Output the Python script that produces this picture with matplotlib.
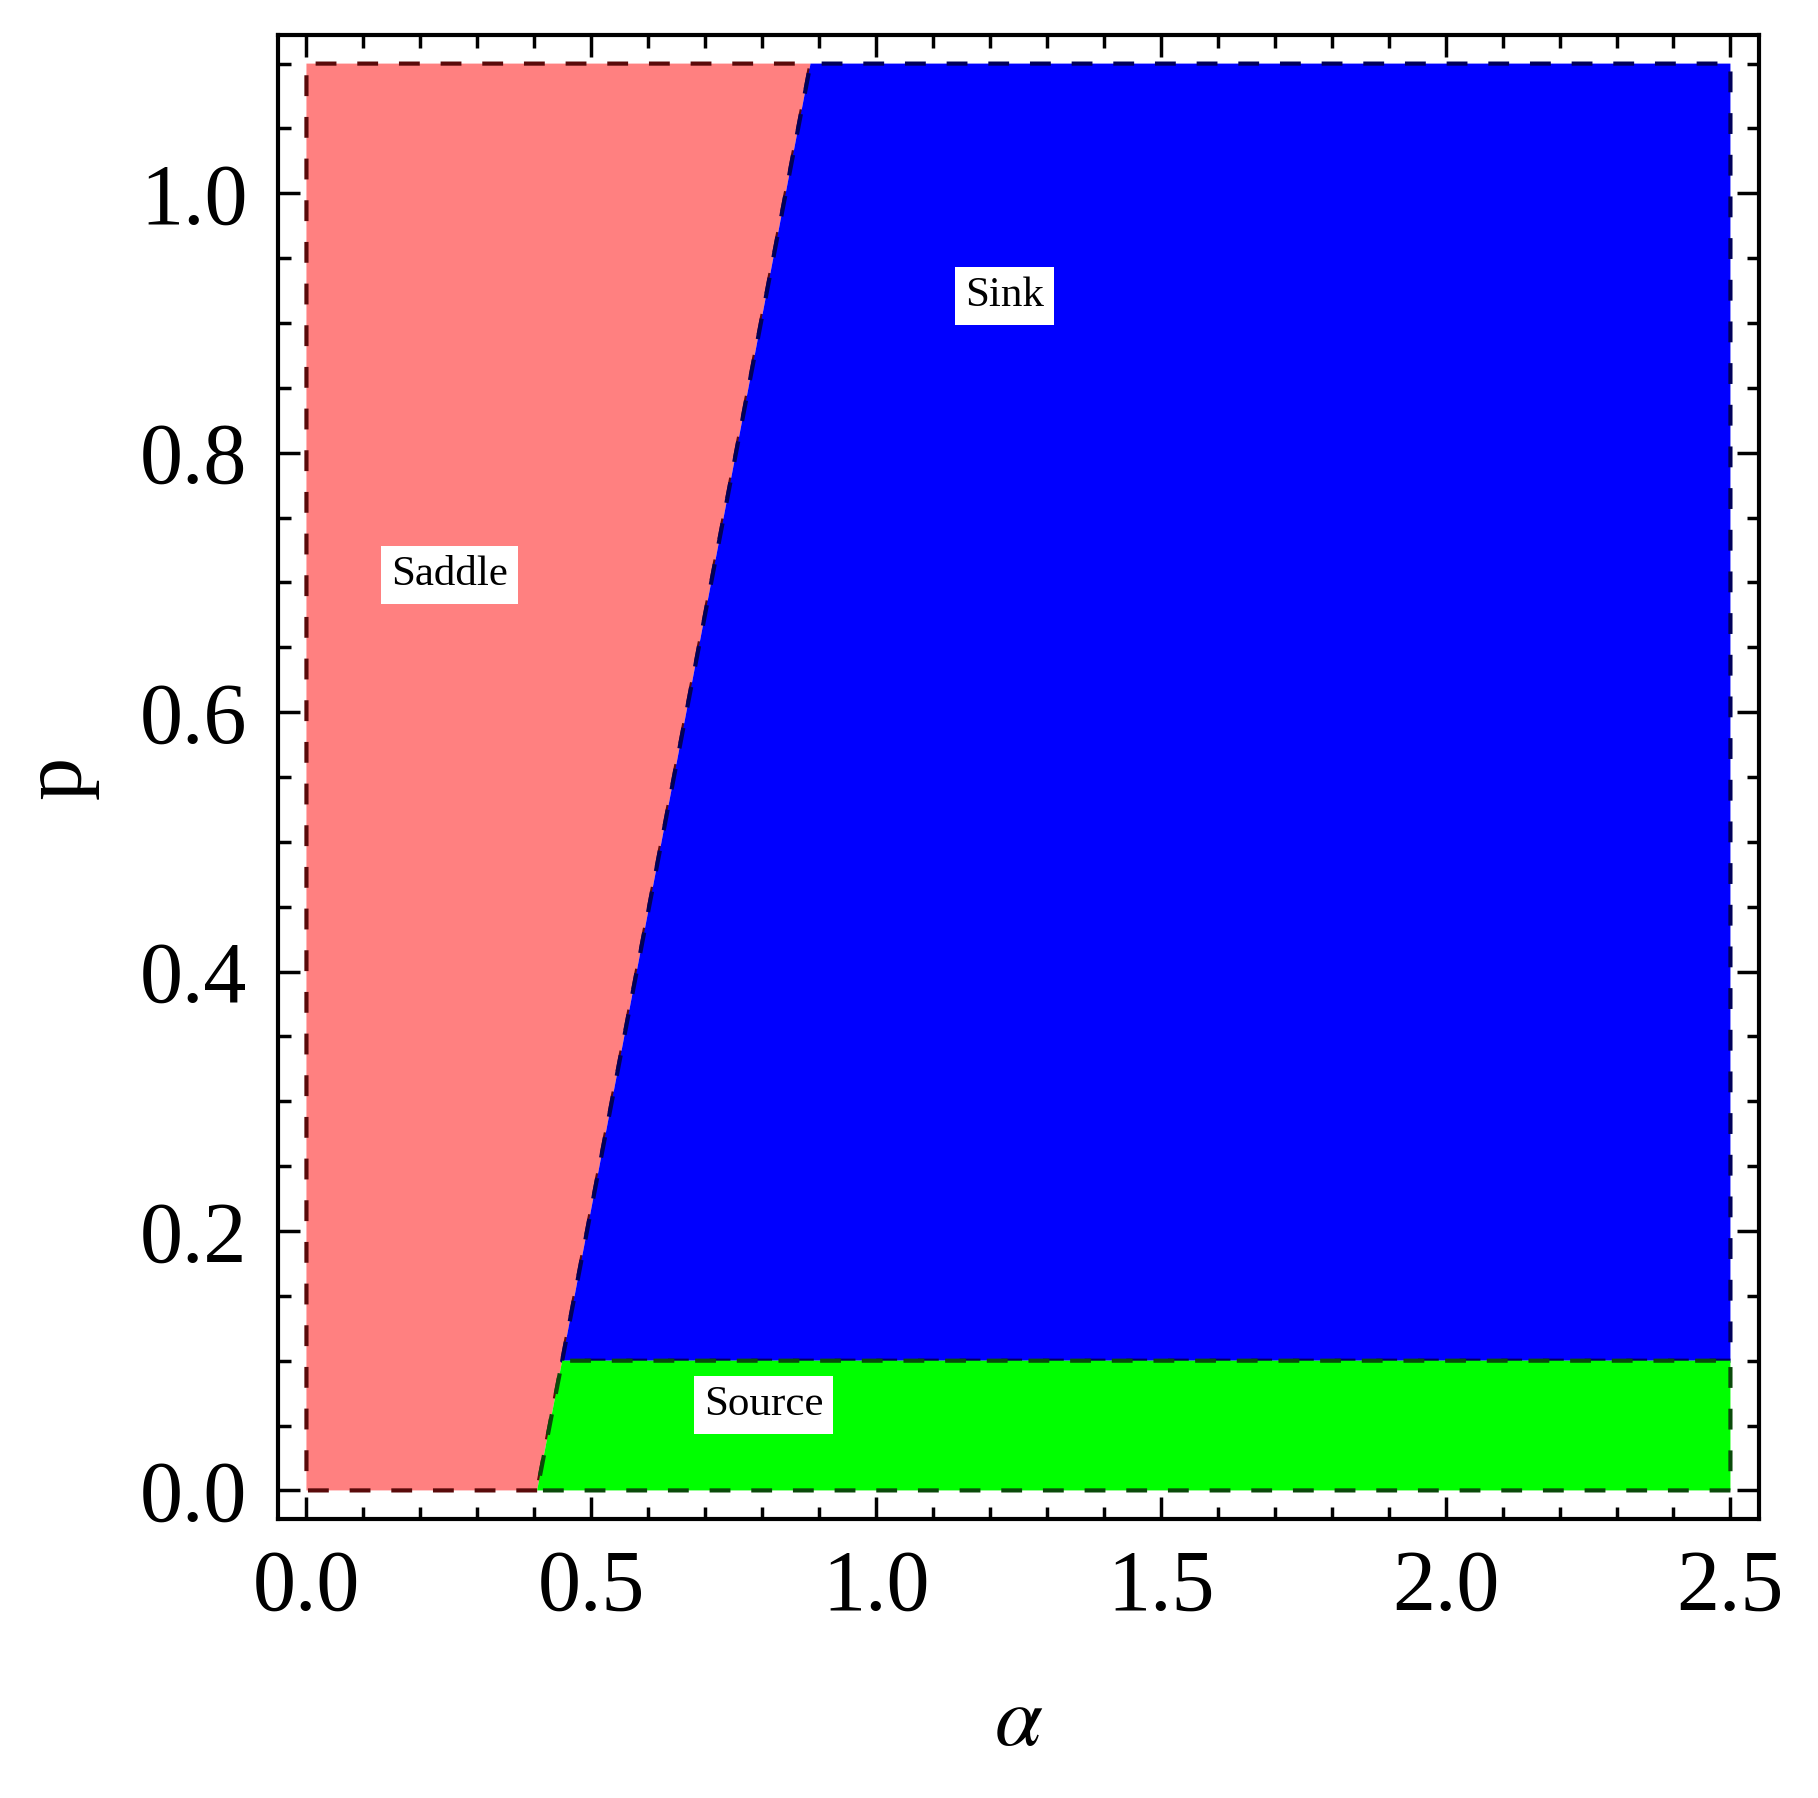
import matplotlib.pyplot as plt
import numpy as np
from matplotlib.ticker import MultipleLocator

# boundary between saddle and sink/source regions (alpha as a function of p)
boundary_p = [0.0, 0.1, 1.1]
boundary_alpha = [0.405, 0.449, 0.885]

alpha_max = 2.5
p_max = 1.1
source_top = 0.1

region_names = ['Saddle', 'Sink', 'Source']
label_alpha = [0.251, 1.225, 0.803]
label_p = [0.706, 0.921, 0.066]

x_ticks = [0.0, 0.5, 1.0, 1.5, 2.0, 2.5]
y_ticks = [0.0, 0.2, 0.4, 0.6, 0.8, 1.0]

plt.rcParams['font.family'] = ['Liberation Serif', 'DejaVu Serif']
plt.rcParams['mathtext.fontset'] = 'stix'

fig = plt.figure(figsize=(18.18, 17.98), dpi=100)
ax = fig.add_axes([0.1529, 0.1552, 0.8146, 0.8253])

bp = np.array(boundary_p)
ba = np.array(boundary_alpha)

# Saddle: from alpha=0 to boundary
ax.fill_betweenx(bp, 0, ba, facecolor='#ff8080', edgecolor='#5a0a0a',
                 linestyle=(0, (5, 5)), linewidth=3, zorder=2)
# Sink: above p=0.1
m = bp >= source_top
ax.fill_betweenx(bp[m], ba[m], alpha_max, facecolor='#0000ff', edgecolor='#00005a',
                 linestyle=(0, (5, 5)), linewidth=3, zorder=2)
# Source: below p=0.1
m = bp <= source_top
ax.fill_betweenx(bp[m], ba[m], alpha_max, facecolor='#00ff00', edgecolor='#0a4a0a',
                 linestyle=(0, (5, 5)), linewidth=3, zorder=2)

for name, a, p in zip(region_names, label_alpha, label_p):
    ax.text(a, p, name, fontsize=31, ha='center', va='center', zorder=5,
            bbox=dict(facecolor='white', edgecolor='none', pad=7))

ax.set_xlim(-0.05, 2.55)
ax.set_ylim(-0.022, 1.122)

ax.set_xticks(x_ticks)
ax.set_xticklabels([f'{v:.1f}' for v in x_ticks])
ax.set_yticks(y_ticks)
ax.set_yticklabels([f'{v:.1f}' for v in y_ticks])
ax.xaxis.set_minor_locator(MultipleLocator(0.1))
ax.yaxis.set_minor_locator(MultipleLocator(0.05))

ax.tick_params(which='both', direction='in', top=True, right=True, width=2.5, colors='black')
ax.tick_params(which='major', length=16, labelsize=62, pad=22)
ax.tick_params(which='minor', length=9)
for s in ax.spines.values():
    s.set_linewidth(3)

ax.set_xlabel(r'$\alpha$', fontsize=62, labelpad=40)
ax.set_ylabel('p', fontsize=62, labelpad=30)

fig.savefig('out.png', dpi=100)
